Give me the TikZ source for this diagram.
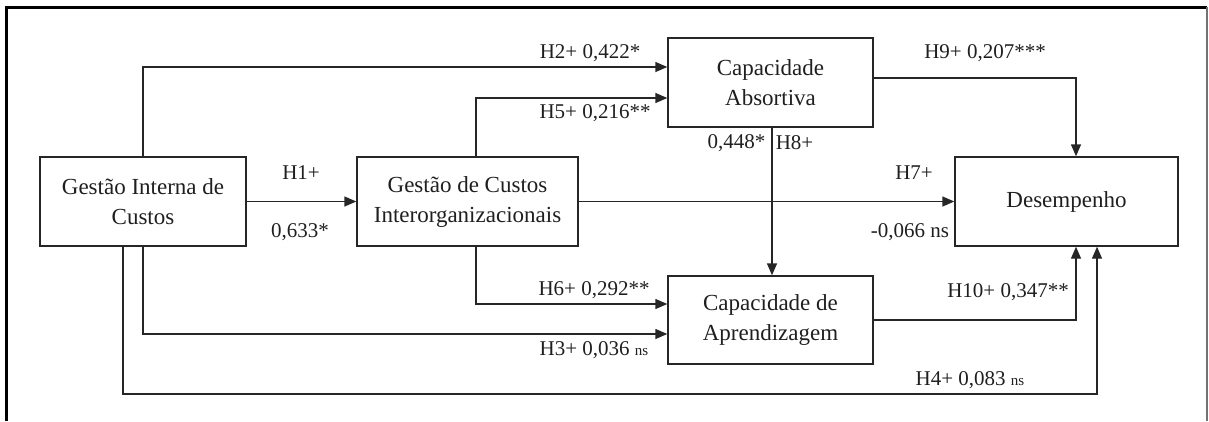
\documentclass[tikz,border=0pt]{standalone}
\usepackage{fontspec}
\setmainfont{Liberation Serif}
\usetikzlibrary{arrows.meta}
\begin{document}
\begin{tikzpicture}[x=1pt,y=-1pt,
  every node/.style={font=\fontsize{21}{30}\selectfont, text=black!88},
  box/.style={draw=black!85, line width=1.4pt, rectangle, align=center, inner sep=0pt,
    font=\fontsize{23}{30}\selectfont},
  conn/.style={draw=black!85, line width=1.4pt, -{Triangle[length=12pt,width=10pt]}},
  lbl/.style={inner sep=0pt},
  frame/.style={draw=black, line width=3pt}]
\useasboundingbox (0,0) rectangle (1209,421);
% outer frame
\draw[frame] (6,421) -- (6,7) -- (1207,7);
\draw[draw=black!55, line width=1.2pt] (1207,7) -- (1207,421);
% boxes
\node[box, minimum width=206pt, minimum height=89pt] (gi) at (143,201.5) {Gestão Interna de\\Custos};
\node[box, minimum width=221pt, minimum height=89pt] (gci) at (467.5,201.5) {Gestão de Custos\\Interorganizacionais};
\node[box, minimum width=205pt, minimum height=89pt] (ca) at (770.5,82.5) {Capacidade\\Absortiva};
\node[box, minimum width=205pt, minimum height=88pt] (cap) at (770.5,320) {Capacidade de\\Aprendizagem};
\node[box, minimum width=223pt, minimum height=89pt] (des) at (1066.5,201.5) {Desempenho};
\coordinate (h4c) at (1097,394);
% connectors
\draw[conn] (gi.east) -- (gci.west);
\draw[conn] (gi.north) |- ([yshift=15.5pt]ca.west);
\draw[conn] ([xshift=8.5pt]gci.north) |- ([yshift=-15.5pt]ca.west);
\draw[conn] ([xshift=8.5pt]gci.south) |- ([yshift=16pt]cap.west);
\draw[conn] (gi.south) |- ([yshift=-14pt]cap.west);
\draw[conn] ([xshift=-20pt]gi.south) |- (h4c) -- ([xshift=30.5pt]des.south);
\draw[conn] (gci.east) -- (des.west);
\draw[conn] ([xshift=1.5pt]ca.south) -- ([xshift=1.5pt]cap.north);
\draw[conn] ([yshift=4.5pt]ca.east) -| ([xshift=9.5pt]des.north);
\draw[conn] (cap.east) -| ([xshift=9.5pt]des.south);
% labels
\node[lbl] (l1a) at (301,173) {H1+};
\node[lbl] (l1b) at (300,232) {0,633*};
\node[lbl] (l2) at (590,53) {H2+ 0,422*};
\node[lbl] (l5) at (595,113) {H5+ 0,216**};
\node[lbl] (l8a) at (736.5,143) {0,448*};
\node[lbl] (l8b) at (794.5,143) {H8+};
\node[lbl] (l7a) at (914,173) {H7+};
\node[lbl] (l7b) at (910,232) {-0,066 ns};
\node[lbl] (l9) at (985,53) {H9+ 0,207***};
\node[lbl] (l10) at (1008,292) {H10+ 0,347**};
\node[lbl] (l6) at (594,290) {H6+ 0,292**};
\node[lbl] (l3) at (594,350) {H3+ 0,036 {\fontsize{15}{18}\selectfont ns}};
\node[lbl] (l4) at (970,380) {H4+ 0,083 {\fontsize{15}{18}\selectfont ns}};
\end{tikzpicture}
\end{document}
